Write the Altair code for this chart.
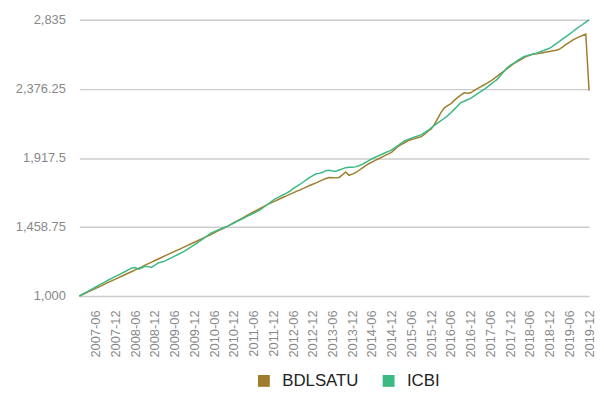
import altair as alt
import pandas as pd

months = [f"{y}-{m:02d}" for y in range(2007, 2020) for m in range(1, 13)]

bdlsatu = [
    1000, 1010, 1020, 1031, 1041, 1051, 1061, 1071, 1082, 1092, 1102, 1112,
    1122, 1133, 1143, 1153, 1163, 1174, 1184, 1194, 1205, 1215, 1225, 1236,
    1246, 1256, 1267, 1277, 1287, 1297, 1307, 1317, 1327, 1337, 1347, 1357,
    1367, 1377, 1388, 1398, 1409, 1420, 1431, 1442, 1452, 1463, 1475, 1487,
    1499, 1511, 1523, 1535, 1547, 1559, 1570, 1582, 1594, 1606, 1616, 1626,
    1636, 1646, 1656, 1665, 1675, 1685, 1695, 1704, 1714, 1724, 1734, 1743,
    1752, 1762, 1772, 1781, 1787, 1786, 1785, 1788, 1805, 1824, 1802, 1810,
    1820, 1834, 1850, 1865, 1879, 1890, 1901, 1912, 1923, 1934, 1945, 1956,
    1975, 1995, 2008, 2020, 2033, 2040, 2046, 2053, 2059, 2075, 2095, 2110,
    2140, 2180, 2220, 2250, 2265, 2278, 2300, 2318, 2335, 2350, 2348, 2350,
    2365, 2378, 2390, 2402, 2414, 2427, 2443, 2460, 2476, 2493, 2509, 2525,
    2542, 2556, 2568, 2581, 2592, 2600, 2607, 2610, 2613, 2617, 2621, 2625,
    2629, 2633, 2640, 2655, 2672, 2686, 2700, 2712, 2722, 2731, 2740, 2366,
]

icbi = [
    1000, 1012, 1024, 1036, 1048, 1060, 1072, 1084, 1096, 1108, 1119, 1130,
    1141, 1152, 1163, 1175, 1186, 1189, 1178, 1188, 1198, 1194, 1192, 1205,
    1220, 1226, 1232, 1243, 1254, 1265, 1276, 1287, 1298, 1312, 1326, 1340,
    1354, 1370, 1386, 1402, 1418, 1428, 1437, 1446, 1455, 1463, 1474, 1485,
    1496, 1507, 1518, 1529, 1540, 1550, 1561, 1572, 1588, 1605, 1621, 1638,
    1650, 1662, 1673, 1684, 1696, 1713, 1727, 1741, 1756, 1771, 1786, 1800,
    1812, 1815, 1822, 1833, 1835, 1830, 1829, 1837, 1845, 1853, 1855, 1856,
    1858, 1866, 1875, 1887, 1900, 1912, 1922, 1932, 1942, 1952, 1961, 1971,
    1986, 2001, 2017, 2033, 2041, 2049, 2057, 2064, 2072, 2085, 2100, 2117,
    2134, 2150, 2165, 2181, 2199, 2218, 2240, 2262, 2285, 2294, 2304, 2313,
    2328, 2343, 2358, 2372, 2388, 2405, 2422, 2438, 2463, 2489, 2515, 2533,
    2545, 2560, 2575, 2588, 2596, 2602, 2608, 2613, 2622, 2630, 2638, 2646,
    2661, 2677, 2692, 2708, 2723, 2740, 2756, 2773, 2789, 2804, 2820, 2835,
]

series_names = ["BDLSATU", "ICBI"]
series_colors = ["#9e7d2c", "#3dba84"]
y_ticks = [1000, 1458.75, 1917.5, 2376.25, 2835]
x_ticks = [m for m in months if m.endswith("-06") or m.endswith("-12")]

df = pd.concat([
    pd.DataFrame({"month": months, "value": bdlsatu, "series": "BDLSATU"}),
    pd.DataFrame({"month": months, "value": icbi, "series": "ICBI"}),
])

chart = alt.Chart(df).mark_line(strokeWidth=1.5).encode(
    x=alt.X("month:O", sort=months,
            scale=alt.Scale(type="point", padding=0),
            axis=alt.Axis(title=None, values=x_ticks, labelAngle=-90,
                          labelFontSize=13, labelColor="#888888",
                          labelFont="Liberation Sans", ticks=False,
                          domain=False, grid=False, labelPadding=14)),
    y=alt.Y("value:Q",
            scale=alt.Scale(domain=[1000, 2835], nice=False, zero=False),
            axis=alt.Axis(title=None, values=y_ticks, format=",.2~f",
                          labelFontSize=13, labelColor="#888888",
                          labelFont="Liberation Sans", ticks=False,
                          domain=False, grid=True, gridColor="#cccccc",
                          gridWidth=1.5, labelPadding=14)),
    color=alt.Color("series:N",
                    scale=alt.Scale(domain=series_names, range=series_colors),
                    legend=alt.Legend(title=None, orient="none",
                                      legendX=178, legendY=356,
                                      direction="horizontal",
                                      symbolType="square", symbolSize=36,
                                      symbolStrokeWidth=6,
                                      labelFontSize=17, labelColor="#222222",
                                      labelFont="Liberation Sans",
                                      labelOffset=10,
                                      columnPadding=14)),
).properties(
    width=515,
    height=279,
    autosize=alt.AutoSizeParams(type="none"),
    padding={"left": 72, "top": 10, "right": 7, "bottom": 96},
).configure_view(stroke=None)

chart.save("out.html", embed_options={"renderer": "svg", "actions": False})
